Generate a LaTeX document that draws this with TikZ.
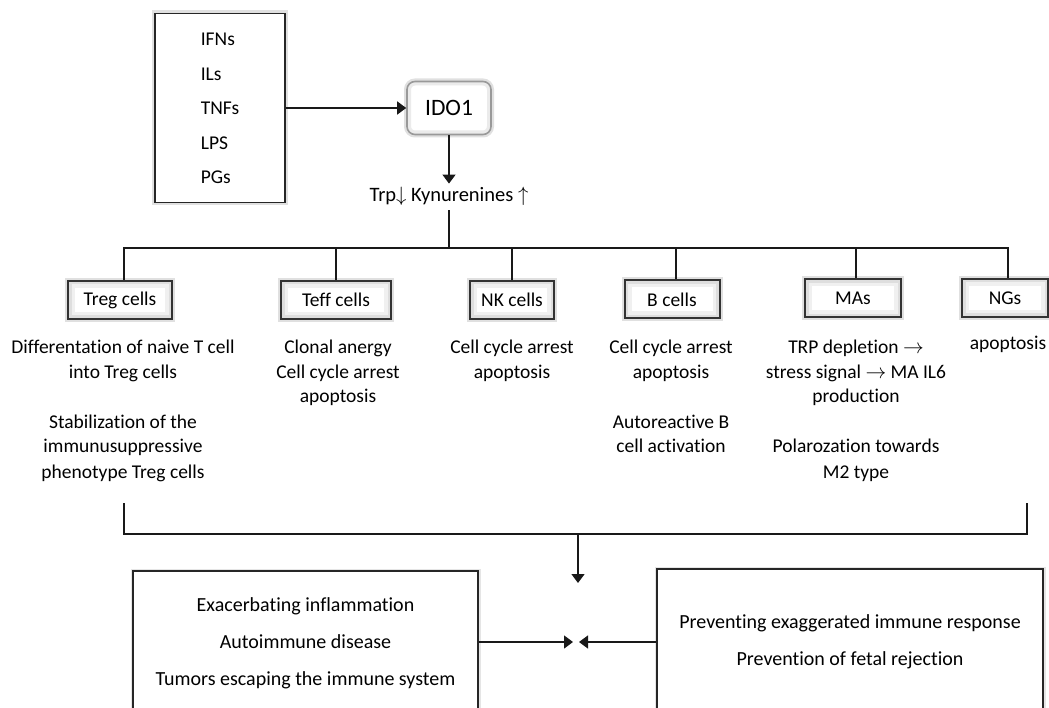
\documentclass[tikz,border=0pt]{standalone}
\usepackage{fontspec}
\setmainfont{Carlito}[Ligatures=NoCommon]
\usetikzlibrary{arrows.meta,calc}
\begin{document}
\begin{tikzpicture}[x=1pt,y=-1pt,
  ln/.style={line width=1.4pt, draw=black!90},
  arr/.style={ln, -{Triangle[width=13pt,length=9pt]}},
  srcbox/.style={draw=black!85, line width=1.5pt, fill=white, inner sep=0pt,
    minimum width=130pt, minimum height=189pt,
    preaction={draw=black!12, line width=6pt},
    font=\fontsize{19.5}{34.5}\selectfont},
  idobox/.style={draw=black!40, line width=1.6pt, fill=white, rounded corners=8pt,
    inner sep=0pt, minimum width=84pt, minimum height=53pt,
    preaction={draw=black!12, line width=6pt},
    path picture={\draw[black!8, line width=8pt, rounded corners=8pt]
      (path picture bounding box.south west) rectangle (path picture bounding box.north east);},
    font=\fontsize{23.5}{25}\selectfont},
  cellbox/.style={draw=black!80, line width=2pt, fill=white, inner sep=0pt,
    minimum height=38pt,
    preaction={draw=black!12, line width=6pt},
    path picture={\draw[black!6, line width=14pt]
      (path picture bounding box.south west) rectangle (path picture bounding box.north east);
      \draw[black!13, line width=7pt]
      (path picture bounding box.south west) rectangle (path picture bounding box.north east);},
    postaction={draw=black!80, line width=2pt},
    font=\fontsize{19.5}{25}\selectfont},
  celltxt/.style={anchor=base, inner sep=0pt, font=\fontsize{19.5}{25}\selectfont},
  outbox/.style={draw=black!85, line width=1.5pt, fill=white, inner sep=0pt,
    preaction={draw=black!10, line width=5pt},
    font=\fontsize{20}{37}\selectfont}
]
\useasboundingbox (0,0) rectangle (1049,708);

% top
\node[srcbox] (src) at (220,108) {\begin{tabular}{@{}l@{}}IFNs\\ILs\\TNFs\\LPS\\PGs\end{tabular}};
\node[idobox] (ido) at (449,108) {IDO1};
\draw[arr] (src) -- (ido);
\node[inner sep=3pt, font=\fontsize{20.5}{25}\selectfont] (kyn) at (449,196) {Trp$\downarrow$ Kynurenines $\uparrow$};
\draw[arr] (ido.south) -- (kyn.north);

% cell boxes
\node[cellbox, minimum width=104pt] (treg) at (120,300) {Treg cells};
\node[cellbox, minimum width=110pt] (teff) at (336,300) {Teff cells};
\node[cellbox, minimum width=84pt] (nk) at (512,300) {NK cells};
\node[cellbox, minimum width=95pt] (bc) at (672,299.5) {B cells};
\node[cellbox, minimum width=96pt] (mas) at (853,298.5) {MAs};
\node[cellbox, minimum width=86pt] (ngs) at (1005,298) {NGs};

\coordinate (barY) at (0,248);
\coordinate (dTreg) at ([xshift=4pt]treg.north);
\coordinate (dNgs) at ([xshift=3pt]ngs.north);
\coordinate (dMas) at ([xshift=3pt]mas.north);
\coordinate (dBc) at ([xshift=4pt]bc.north);
\draw[ln] (dTreg) |- (dNgs |- barY) -- (dNgs);
\draw[ln] (teff.north) -- (teff.north |- barY);
\draw[ln] (nk.north) -- (nk.north |- barY);
\draw[ln] (dBc) -- (dBc |- barY);
\draw[ln] (dMas) -- (dMas |- barY);
\draw[ln] ([yshift=-2pt]kyn.south) -- (kyn.south |- barY);

% texts under cells
\node[celltxt] (tregt) at (123,353) {\begin{tabular}[t]{@{}c@{}}Differentation of naive T cell\\into Treg cells\\ \\Stabilization of the\\immunusuppressive\\phenotype Treg cells\end{tabular}};
\node[celltxt] (tefft) at (338,353) {\begin{tabular}[t]{@{}c@{}}Clonal anergy\\Cell cycle arrest\\apoptosis\end{tabular}};
\node[celltxt] (nkt) at (512,353) {\begin{tabular}[t]{@{}c@{}}Cell cycle arrest\\apoptosis\end{tabular}};
\node[celltxt] (bct) at (671,353) {\begin{tabular}[t]{@{}c@{}}Cell cycle arrest\\apoptosis\\ \\Autoreactive B\\cell activation\end{tabular}};
\node[celltxt] (mast) at (856,353) {\begin{tabular}[t]{@{}c@{}}TRP depletion $\rightarrow$\\stress signal $\rightarrow$ MA IL6\\production\\ \\Polarozation towards\\M2 type\end{tabular}};
\node[celltxt] (ngst) at (1008,349) {apoptosis};

% bracket
\coordinate (bkL) at (124,503);
\coordinate (bkR) at (1027,503);
\coordinate (bkY) at (0,534);
\draw[ln] (bkL) |- (bkR |- bkY) -- (bkR);
\coordinate (bkM) at (578,534);
\coordinate (bkTip) at (578,583);
\draw[arr] (bkM) -- (bkTip);

% bottom boxes
\node[outbox, minimum width=345pt, minimum height=140pt] (lbox) at (305.5,641)
  {\begin{tabular}{@{}c@{}}Exacerbating inflammation\\Autoimmune disease\\Tumors escaping the immune system\end{tabular}};
\node[outbox, minimum width=386pt, minimum height=142pt] (rbox) at (850,640)
  {\begin{tabular}{@{}c@{}}Preventing exaggerated immune response\\Prevention of fetal rejection\end{tabular}};
\coordinate (tipL) at (573,642);
\coordinate (tipR) at (579,642);
\draw[arr] (lbox.east |- tipL) -- (tipL);
\draw[arr] (rbox.west |- tipR) -- (tipR);
\end{tikzpicture}
\end{document}
